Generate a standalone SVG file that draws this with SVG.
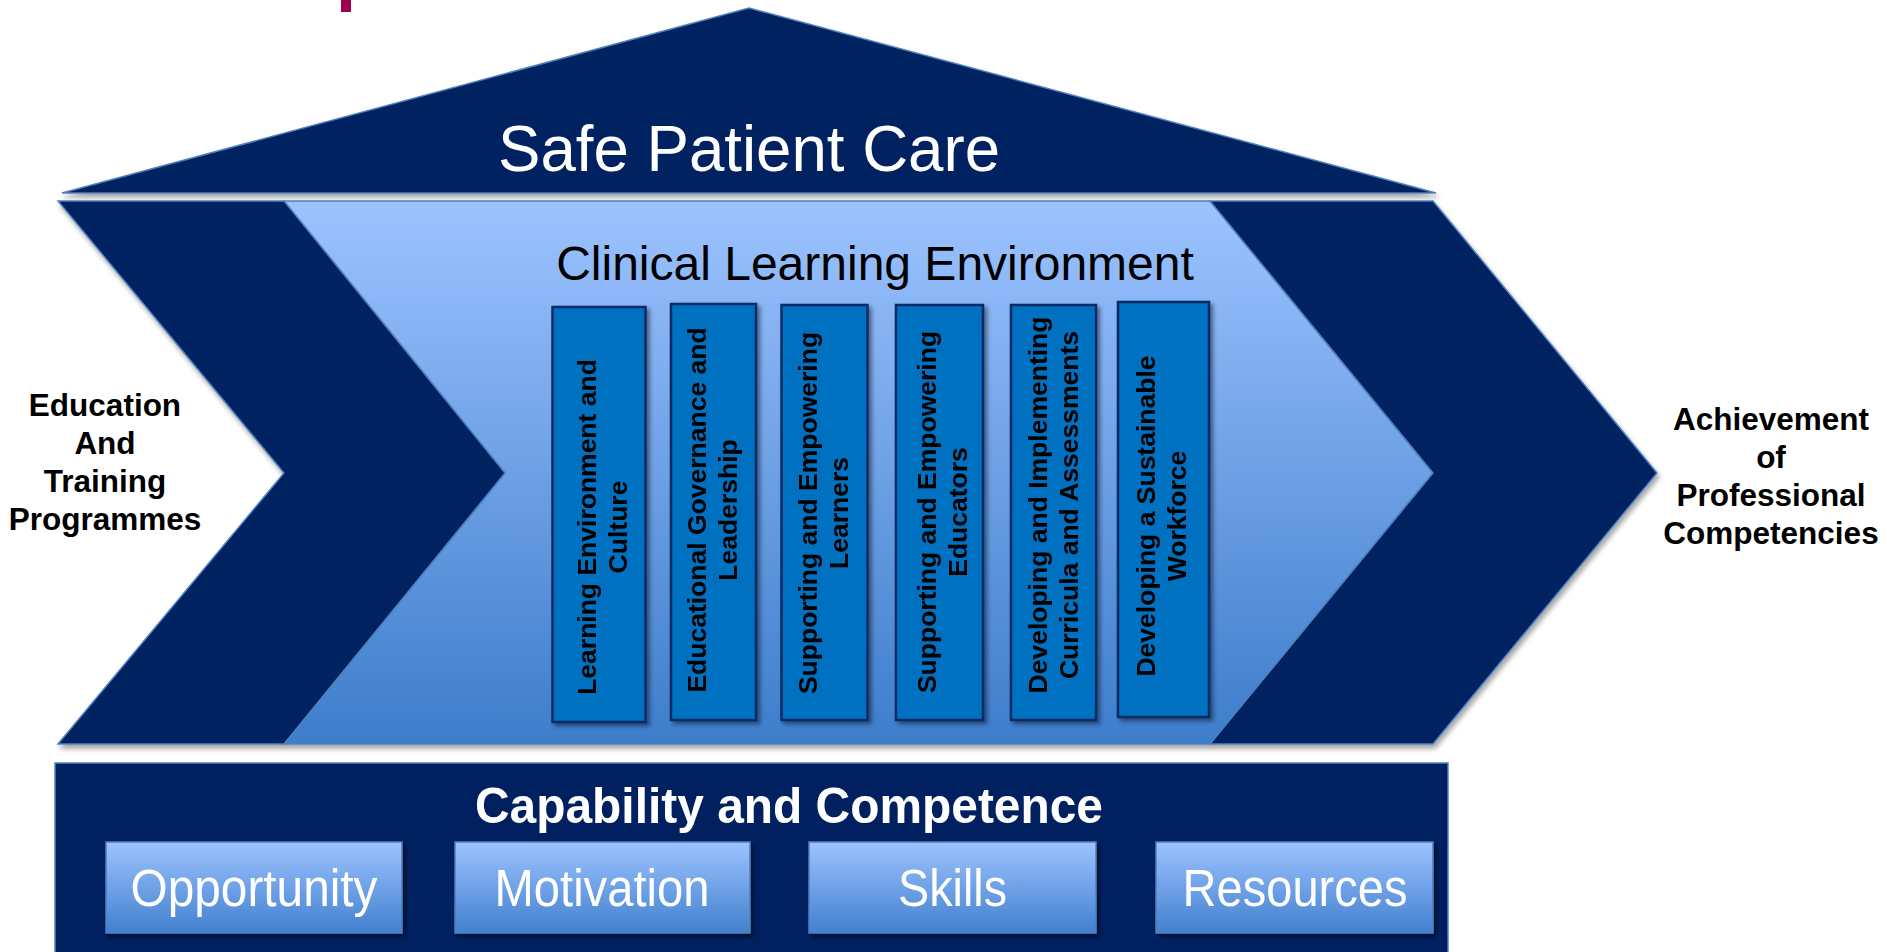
<svg xmlns="http://www.w3.org/2000/svg" width="1887" height="952" viewBox="0 0 1887 952">
  <style>
    .navy { fill: #002060; stroke: #4F81BD; stroke-width: 1.5; }
    .pillar { fill: #0070C0; stroke: #0B2A66; stroke-width: 2.5; }
    .btn { fill: url(#btnGrad); stroke: #4F81BD; stroke-width: 1.5; }
    .sans { font-family: "Liberation Sans", Arial, sans-serif; }
    .pt { font-family: "Liberation Sans", Arial, sans-serif; font-weight: bold; font-size: 26.5px; fill: #000000; text-anchor: middle; }
    .side { font-family: "Liberation Sans", Arial, sans-serif; font-weight: bold; font-size: 31.5px; fill: #000000; text-anchor: middle; }
    .btxt { font-family: "Liberation Sans", Arial, sans-serif; font-size: 51px; fill: #FFFFFF; text-anchor: middle; }
  </style>
  <defs>
    <linearGradient id="bandGrad" x1="0" y1="0" x2="0" y2="1">
      <stop offset="0" stop-color="#9DC3FF"/>
      <stop offset="1" stop-color="#3D7DCB"/>
    </linearGradient>
    <linearGradient id="btnGrad" x1="0" y1="0" x2="0" y2="1">
      <stop offset="0" stop-color="#9DC3FF"/>
      <stop offset="1" stop-color="#4280CE"/>
    </linearGradient>
    <filter id="shadow" x="-10%" y="-10%" width="120%" height="130%">
      <feDropShadow dx="2" dy="4" stdDeviation="2.5" flood-color="#000000" flood-opacity="0.35"/>
    </filter>
    <filter id="shadowSm" x="-10%" y="-10%" width="130%" height="130%">
      <feDropShadow dx="3" dy="3" stdDeviation="2" flood-color="#000000" flood-opacity="0.45"/>
    </filter>
  </defs>

  <rect width="1887" height="952" fill="#FFFFFF"/>

  <!-- magenta mark at top -->
  <rect x="341" y="0" width="10" height="12" fill="#9E0052"/>

  <g id="roof" filter="url(#shadow)">
    <path class="navy" d="M62,193 L749,8 L1436,193 Z"/>
    <text class="sans" x="749" y="171" font-size="64" fill="#FFFFFF" text-anchor="middle" textLength="502" lengthAdjust="spacingAndGlyphs">Safe Patient Care</text>
  </g>

  <g id="band" filter="url(#shadow)">
    <path d="M284,201 L1210,201 L1433,473 L1210,744 L284,744 L505,473 Z" fill="url(#bandGrad)" stroke="#4F81BD" stroke-width="1.5"/>
    <path id="leftChevron" class="navy" d="M58,201 L284,201 L505,473 L284,744 L58,744 L284,473 Z"/>
    <path id="rightChevron" class="navy" d="M1210,201 L1433,201 L1657,473 L1433,744 L1210,744 L1433,473 Z"/>
  </g>
  <text class="sans" x="875" y="280" font-size="48" fill="#000000" text-anchor="middle">Clinical Learning Environment</text>

  <g id="input-label">
    <text class="side" x="105" y="416">Education</text>
    <text class="side" x="105" y="454">And</text>
    <text class="side" x="105" y="492">Training</text>
    <text class="side" x="105" y="530">Programmes</text>
  </g>

  <g id="output-label">
    <text class="side" x="1771" y="430">Achievement</text>
    <text class="side" x="1771" y="468">of</text>
    <text class="side" x="1771" y="506">Professional</text>
    <text class="side" x="1771" y="544">Competencies</text>
  </g>

  <g id="pillar1" filter="url(#shadowSm)">
    <rect class="pillar" x="552.5" y="307" width="93" height="415"/>
    <g transform="translate(599,527) rotate(-90)">
      <text class="pt" x="0" y="-3">Learning Environment and</text>
      <text class="pt" x="0" y="28">Culture</text>
    </g>
  </g>
  <g id="pillar2" filter="url(#shadowSm)">
    <rect class="pillar" x="671" y="304" width="85" height="416"/>
    <g transform="translate(713.5,510) rotate(-90)">
      <text class="pt" x="0" y="-8">Educational Governance and</text>
      <text class="pt" x="0" y="23">Leadership</text>
    </g>
  </g>
  <g id="pillar3" filter="url(#shadowSm)">
    <rect class="pillar" x="781.5" y="305" width="86" height="415"/>
    <g transform="translate(824.5,513) rotate(-90)">
      <text class="pt" x="0" y="-8">Supporting and Empowering</text>
      <text class="pt" x="0" y="23">Learners</text>
    </g>
  </g>
  <g id="pillar4" filter="url(#shadowSm)">
    <rect class="pillar" x="896" y="305" width="87" height="415"/>
    <g transform="translate(939.5,512) rotate(-90)">
      <text class="pt" x="0" y="-4">Supporting and Empowering</text>
      <text class="pt" x="0" y="27">Educators</text>
    </g>
  </g>
  <g id="pillar5" filter="url(#shadowSm)">
    <rect class="pillar" x="1011" y="305" width="85" height="415"/>
    <g transform="translate(1053.5,505) rotate(-90)">
      <text class="pt" x="0" y="-7">Developing and Implementing</text>
      <text class="pt" x="0" y="24">Curricula and Assessments</text>
    </g>
  </g>
  <g id="pillar6" filter="url(#shadowSm)">
    <rect class="pillar" x="1118" y="302" width="91" height="415"/>
    <g transform="translate(1163.5,516) rotate(-90)">
      <text class="pt" x="0" y="-9">Developing a Sustainable</text>
      <text class="pt" x="0" y="22">Workforce</text>
    </g>
  </g>

  <g id="capability">
    <rect class="navy" x="55" y="763" width="1393" height="220"/>
    <text class="sans" x="789" y="823" font-size="50" font-weight="bold" fill="#FFFFFF" text-anchor="middle" textLength="628" lengthAdjust="spacingAndGlyphs">Capability and Competence</text>
  </g>

  <g id="opportunity" filter="url(#shadowSm)">
    <rect class="btn" x="106" y="842" width="296" height="91"/>
    <text class="btxt" x="254" y="906" textLength="247" lengthAdjust="spacingAndGlyphs">Opportunity</text>
  </g>
  <g id="motivation" filter="url(#shadowSm)">
    <rect class="btn" x="455" y="842" width="295" height="91"/>
    <text class="btxt" x="602" y="906" textLength="215" lengthAdjust="spacingAndGlyphs">Motivation</text>
  </g>
  <g id="skills" filter="url(#shadowSm)">
    <rect class="btn" x="809" y="842" width="287" height="91"/>
    <text class="btxt" x="952.5" y="906" textLength="109" lengthAdjust="spacingAndGlyphs">Skills</text>
  </g>
  <g id="resources" filter="url(#shadowSm)">
    <rect class="btn" x="1156" y="842" width="277" height="91"/>
    <text class="btxt" x="1295" y="906" textLength="225" lengthAdjust="spacingAndGlyphs">Resources</text>
  </g>

  <g id="connectors"></g>
</svg>
